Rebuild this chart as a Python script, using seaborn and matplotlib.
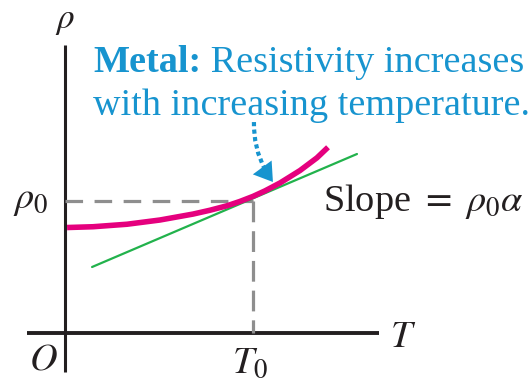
import matplotlib
matplotlib.use("Agg")
import matplotlib.pyplot as plt
import seaborn as sns
import pandas as pd
from matplotlib.patches import FancyArrowPatch

# ---- data (T in units of T0, rho in units of rho0) ----
curve_T = [0.011, 0.149, 0.330, 0.505, 0.681, 0.771, 0.862, 0.931, 1.000,
           1.064, 1.144, 1.250, 1.340, 1.399]
curve_rho = [0.799, 0.805, 0.824, 0.856, 0.901, 0.930, 0.964, 0.997, 1.035,
             1.077, 1.137, 1.231, 1.327, 1.407]
tangent_T = [0.144, 1.553]
tangent_rho = [0.500, 1.356]
T0 = 1.0
rho0 = 1.0
axis_T_range = [-0.202, 1.670]
axis_rho_range = [-0.295, 2.180]

annotation_line1_bold = "Metal:"
annotation_line1 = " Resistivity increases"
annotation_line2 = "with increasing temperature."
slope_label = r"Slope $=$ $\rho_0\alpha$"

sns.set_theme(style="white")
plt.rcParams["font.family"] = ["Liberation Serif", "DejaVu Serif"]
plt.rcParams["mathtext.fontset"] = "stix"

MAGENTA = "#e5007e"
GREEN = "#22b24c"
GRAY = "#8e8e8e"
BLACK = "#231f20"
BLUE = "#1794cf"
FS = 27.5

fig = plt.figure(figsize=(5.32, 3.87), dpi=100)
ax = fig.add_axes([0, 0, 1, 1])
ax.set_xlim(-65 / 188, (532 - 65) / 188)
ax.set_ylim(-(387 - 333) / 132, 333 / 132)
ax.axis("off")

# axes lines
ax.plot(axis_T_range, [0, 0], color=BLACK, lw=2.8, solid_capstyle="butt")
ax.plot([0, 0], axis_rho_range, color=BLACK, lw=2.2, solid_capstyle="butt")

# dashed guides
ax.plot([0, T0], [rho0, rho0], color=GRAY, lw=2.3, dashes=(5.5, 3.6))
ax.plot([T0, T0], [rho0, 0], color=GRAY, lw=2.3, dashes=(6.5, 2.8))

# tangent line and curve
df_tan = pd.DataFrame({"T": tangent_T, "rho": tangent_rho})
sns.lineplot(data=df_tan, x="T", y="rho", ax=ax, color=GREEN, lw=1.6, sort=False)
df_curve = pd.DataFrame({"T": curve_T, "rho": curve_rho})
sns.lineplot(data=df_curve, x="T", y="rho", ax=ax, color=MAGENTA, lw=4.0,
             sort=False, solid_capstyle="butt", solid_joinstyle="round")

# labels
ax.text(0.0, 2.311, r"$\rho$", fontsize=FS * 0.92, ha="center", va="baseline", color=BLACK)
ax.text(-0.090, 0.947, r"$\rho_0$", fontsize=FS, ha="right", va="baseline", color=BLACK)
ax.text(0.984, -0.303, r"$T_0$", fontsize=FS, ha="center", va="baseline", color=BLACK)
ax.text(1.729, -0.106, r"$T$", fontsize=FS, ha="left", va="baseline", color=BLACK)
ax.text(-0.117, -0.280, r"$O$", fontsize=FS, ha="center", va="baseline", color=BLACK)
ax.text(1.372, 0.924, slope_label, fontsize=FS, ha="left", va="baseline", color=BLACK)

t_bold = ax.text(0.149, 1.977, annotation_line1_bold, fontsize=FS, fontweight="bold",
                 ha="left", va="baseline", color=BLUE)
ax.annotate(annotation_line1, xy=(1, 0), xycoords=t_bold, fontsize=FS,
            ha="left", va="bottom", color=BLUE)
ax.text(0.149, 1.652, annotation_line2, fontsize=FS, ha="left", va="baseline", color=BLUE)

# dotted curved arrow
arrow_start = (1.005, 1.598)
arrow_end = (1.106, 1.144)
shaft = FancyArrowPatch(arrow_start, arrow_end, connectionstyle="arc3,rad=0.17",
                        arrowstyle="-", color=BLUE, lw=3.0, linestyle=(0, (1, 0.8)),
                        shrinkA=0, shrinkB=10, capstyle="butt")
ax.add_patch(shaft)
head = FancyArrowPatch(arrow_start, arrow_end, connectionstyle="arc3,rad=0.17",
                       arrowstyle="-|>,head_length=0.65,head_width=0.42",
                       mutation_scale=20, color=BLUE, lw=0, shrinkA=0, shrinkB=0)
ax.add_patch(head)

fig.savefig("out.png", dpi=100)
